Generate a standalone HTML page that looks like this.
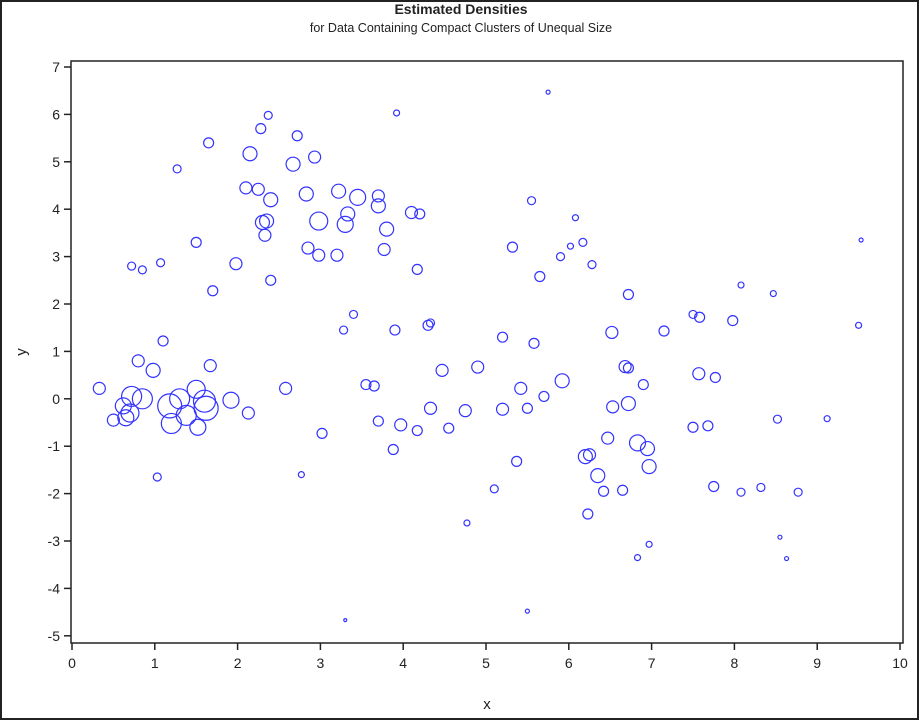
<!DOCTYPE html>
<html><head><meta charset="utf-8"><style>
body{margin:0;background:#fff;}
svg text{font-family:"Liberation Sans",Arial,sans-serif;fill:#222;}
</style></head><body>
<svg id="c" width="922" height="721" viewBox="0 0 922 721" xmlns="http://www.w3.org/2000/svg">
<rect x="1" y="1" width="917" height="718" fill="#fff" stroke="#222" stroke-width="2"/>
<text x="461" y="14" text-anchor="middle" font-size="14" font-weight="bold">Estimated Densities</text>
<text x="461" y="32" text-anchor="middle" font-size="12.5">for Data Containing Compact Clusters of Unequal Size</text>
<rect x="71" y="61" width="832" height="582" fill="none" stroke="#222" stroke-width="1.5"/>
<g id="xt"></g>
<g id="yt"></g>
<g id="pts"></g>
<text x="487" y="709" text-anchor="middle" font-size="15">x</text>
<text x="26" y="352" text-anchor="middle" font-size="15" transform="rotate(-90 26 352)">y</text>
</svg>
<script>
const xTicks=[0,1,2,3,4,5,6,7,8,9,10];
const yTicks=[7,6,5,4,3,2,1,0,-1,-2,-3,-4,-5];
const xs=[0.33,0.5,0.62,0.65,0.72,0.7,0.85,0.8,0.98,1.1,1.03,1.18,1.2,1.3,1.38,1.5,1.52,1.6,1.62,1.67,1.92,2.13,2.58,0.72,0.85,1.07,1.27,1.5,1.65,1.7,1.98,2.1,2.15,2.25,2.28,2.3,2.35,2.33,2.37,2.4,2.4,2.67,2.72,2.83,2.85,2.93,2.98,2.98,3.02,2.77,3.2,3.22,3.3,3.33,3.28,3.4,3.3,3.45,3.55,3.65,3.7,3.7,3.7,3.77,3.8,3.88,3.9,3.92,3.97,4.1,4.17,4.2,4.17,4.3,4.33,4.33,4.47,4.55,4.77,4.75,4.9,5.1,5.2,5.2,5.32,5.37,5.42,5.5,5.5,5.55,5.58,5.65,5.7,5.75,5.9,5.92,6.02,6.08,6.17,6.2,6.25,6.23,6.28,6.35,6.42,6.47,6.52,6.53,6.65,6.68,6.72,6.72,6.72,6.83,6.83,6.9,6.95,6.97,6.97,7.15,7.5,7.5,7.57,7.58,7.68,7.75,7.77,7.98,8.08,8.08,8.32,8.47,8.52,8.55,8.63,8.77,9.12,9.5,9.53];
const ys=[0.22,-0.45,-0.15,-0.4,0.05,-0.3,0.0,0.8,0.6,1.22,-1.65,-0.15,-0.52,0.0,-0.35,0.2,-0.6,-0.05,-0.2,0.7,-0.03,-0.3,0.22,2.8,2.72,2.87,4.85,3.3,5.4,2.28,2.85,4.45,5.17,4.42,5.7,3.72,3.75,3.45,5.98,4.2,2.5,4.95,5.55,4.32,3.18,5.1,3.03,3.75,-0.73,-1.6,3.03,4.38,3.68,3.9,1.45,1.78,-4.67,4.25,0.3,0.27,4.07,4.28,-0.47,3.15,3.58,-1.07,1.45,6.03,-0.55,3.93,2.73,3.9,-0.67,1.55,1.6,-0.2,0.6,-0.62,-2.62,-0.25,0.67,-1.9,1.3,-0.22,3.2,-1.32,0.22,-0.2,-4.48,4.18,1.17,2.58,0.05,6.47,3.0,0.38,3.22,3.82,3.3,-1.22,-1.18,-2.43,2.83,-1.62,-1.95,-0.83,1.4,-0.17,-1.93,0.68,0.65,-0.1,2.2,-3.35,-0.93,0.3,-1.05,-1.43,-3.07,1.43,1.78,-0.6,0.53,1.72,-0.57,-1.85,0.45,1.65,-1.97,2.4,-1.87,2.22,-0.43,-2.92,-3.37,-1.97,-0.42,1.55,3.35];
const dens=[6,6,8,8,10,9,10,6,7,5,4,12,10,10,10,9,8,11,12,6,8,6,6,4,4,4,4,5,5,5,6,6,7,6,5,7,7,6,4,7,5,7,5,7,6,6,6,9,5,3,6,7,8,7,4,4,1.5,8,5,5,7,6,5,6,7,5,5,3,6,6,5,5,5,5,4,6,6,5,3,6,6,4,5,6,5,5,6,5,2,4,5,5,5,2,4,7,3,3,4,7,6,5,4,7,5,6,6,6,5,6,5,7,5,3,8,5,7,7,3,5,4,5,6,5,5,5,5,5,4,3,4,3,4,2,2,4,3,3,2];
const NS='http://www.w3.org/2000/svg';
const sx=v=>72+82.8*v, sy=v=>67+(7-v)*47.4;
const xt=document.getElementById('xt'),yt=document.getElementById('yt'),pts=document.getElementById('pts');
function mk(t,a,p){const e=document.createElementNS(NS,t);for(const k in a)e.setAttribute(k,a[k]);p.appendChild(e);return e;}
xTicks.forEach(v=>{
 const l=mk('line',{x1:sx(v),x2:sx(v),y1:643,y2:650,stroke:'#222','stroke-width':1.5},xt);
 
 
 const t=mk('text',{x:sx(v),y:668,'text-anchor':'middle','font-size':14},xt);t.textContent=v;
 
 
});
yTicks.forEach(v=>{
 const l=mk('line',{x1:64,x2:71,y1:sy(v),y2:sy(v),stroke:'#222','stroke-width':1.5},yt);
 
 
 const t=mk('text',{x:60,y:sy(v)+5,'text-anchor':'end','font-size':14},yt);t.textContent=v;
 
 
});
xs.forEach((x,i)=>{
 const c=mk('circle',{cx:sx(x),cy:sy(ys[i]),r:dens[i],fill:'none',stroke:'#3333ff','stroke-width':1.2},pts);
 
 
});
</script>
</body></html>
